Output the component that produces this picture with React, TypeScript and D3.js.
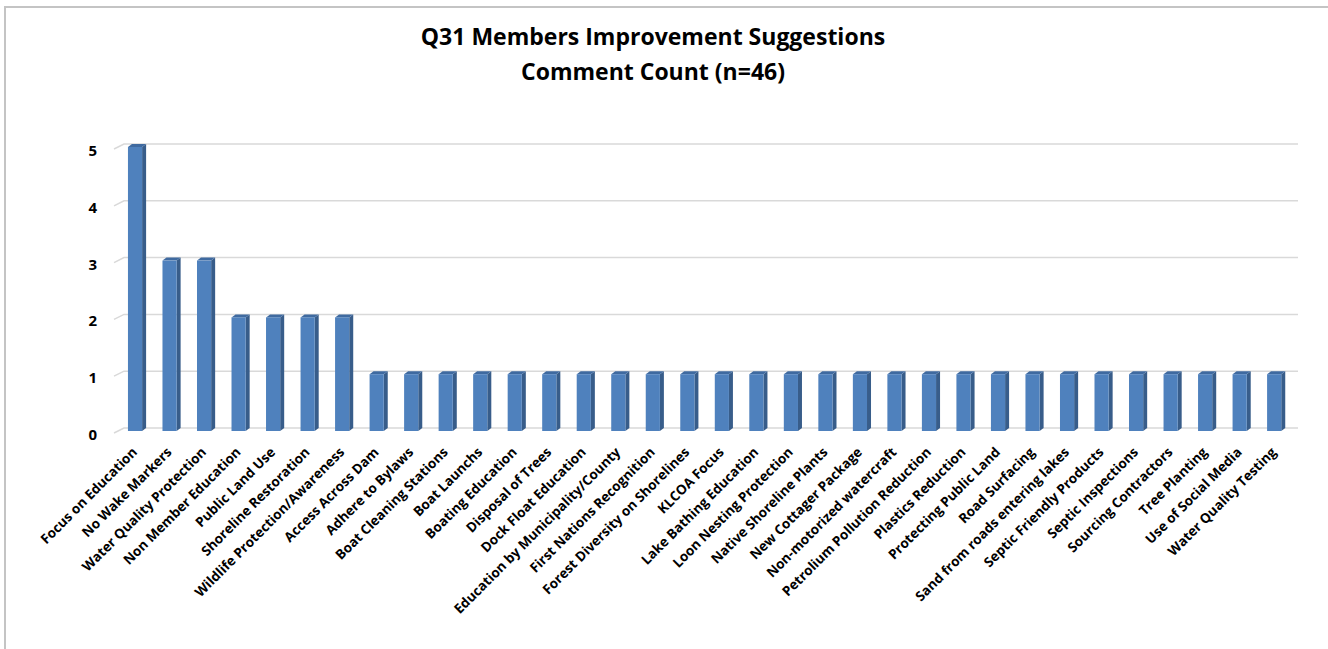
import React, { useRef, useEffect } from "react";
import * as d3 from "d3";

const categories: string[] = [
  "Focus on Education",
  "No Wake Markers",
  "Water Quality Protection",
  "Non Member Education",
  "Public Land Use",
  "Shoreline Restoration",
  "Wildlife Protection/Awareness",
  "Access Across Dam",
  "Adhere to Bylaws",
  "Boat Cleaning Stations",
  "Boat Launchs",
  "Boating Education",
  "Disposal of Trees",
  "Dock Float Education",
  "Education by Municipality/County",
  "First Nations Recognition",
  "Forest Diversity on Shorelines",
  "KLCOA Focus",
  "Lake Bathing Education",
  "Loon Nesting Protection",
  "Native Shoreline Plants",
  "New Cottager Package",
  "Non-motorized watercraft",
  "Petrolium Pollution Reduction",
  "Plastics Reduction",
  "Protecting Public Land",
  "Road Surfacing",
  "Sand from roads entering lakes",
  "Septic Friendly Products",
  "Septic Inspections",
  "Sourcing Contractors",
  "Tree Planting",
  "Use of Social Media",
  "Water Quality Testing",
];

const counts: number[] = [
  5, 3, 3, 2, 2, 2, 2, 1, 1, 1, 1, 1, 1, 1, 1, 1, 1, 1, 1, 1, 1, 1, 1, 1, 1,
  1, 1, 1, 1, 1, 1, 1, 1, 1,
];

const yTicks: number[] = [0, 1, 2, 3, 4, 5];

const titleLines: string[] = [
  "Q31 Members Improvement Suggestions",
  "Comment Count (n=46)",
];

const WIDTH = 1328;
const HEIGHT = 649;
const FONT = "'Open Sans', 'DejaVu Sans', sans-serif";

function drawChart(svgElement: SVGSVGElement) {
  const svg = d3.select(svgElement);
  svg.selectAll("*").remove();

  // frame (only top & left edges visible in the crop)
  svg
    .append("path")
    .attr("d", `M5,${HEIGHT} L5,7 L${WIDTH},7`)
    .attr("fill", "none")
    .attr("stroke", "#c4c4c4")
    .attr("stroke-width", 2);

  // title
  svg
    .append("g")
    .selectAll("text")
    .data(titleLines)
    .enter()
    .append("text")
    .attr("x", 653)
    .attr("y", (d, i) => 45 + i * 35)
    .attr("text-anchor", "middle")
    .style("font-family", FONT)
    .style("font-weight", "bold")
    .style("font-size", "23px")
    .style("fill", "#000")
    .text((d) => d);

  const x = d3
    .scaleBand<string>()
    .domain(categories)
    .range([117.6, 1291.6])
    .paddingInner(0.59)
    .paddingOuter(0.3);

  const y = d3.scaleLinear().domain([0, 5]).range([431, 147]);

  const wallLeft = 114;
  const wallRight = 1298;
  const wallDx = 10;
  const wallDy = -5;

  // gridlines with the 3D side-wall slant
  svg
    .append("g")
    .selectAll("path")
    .data(yTicks)
    .enter()
    .append("path")
    .attr(
      "d",
      (d) =>
        `M${wallLeft},${y(d) + 2} L${wallLeft + wallDx},${y(d) + 2 + wallDy} L${wallRight},${y(d) + 2 + wallDy}`
    )
    .attr("fill", "none")
    .attr("stroke", "#d9d9d9")
    .attr("stroke-width", 1.5);

  // y tick labels
  svg
    .append("g")
    .selectAll("text")
    .data(yTicks)
    .enter()
    .append("text")
    .attr("x", 97)
    .attr("y", (d) => y(d) + 9)
    .attr("text-anchor", "end")
    .style("font-family", FONT)
    .style("font-weight", "bold")
    .style("font-size", "15px")
    .style("fill", "#000")
    .text((d) => d);

  // 3D bars
  const bw = x.bandwidth();
  const dx = 4;
  const dy = -3;
  const bars = svg
    .append("g")
    .selectAll("g")
    .data(categories)
    .enter()
    .append("g");

  bars
    .append("path")
    .attr("d", (d, i) => {
      const x0 = (x(d) as number) + bw;
      const yt = y(counts[i]);
      const yb = y(0);
      return `M${x0},${yt} L${x0 + dx},${yt + dy} L${x0 + dx},${yb + dy} L${x0},${yb} Z`;
    })
    .attr("fill", "#385d8a");

  bars
    .append("path")
    .attr("d", (d, i) => {
      const x0 = x(d) as number;
      const yt = y(counts[i]);
      return `M${x0},${yt} L${x0 + dx},${yt + dy} L${x0 + bw + dx},${yt + dy} L${x0 + bw},${yt} Z`;
    })
    .attr("fill", "#3f6aa0");

  bars
    .append("rect")
    .attr("x", (d) => x(d) as number)
    .attr("y", (d, i) => y(counts[i]))
    .attr("width", bw)
    .attr("height", (d, i) => y(0) - y(counts[i]))
    .attr("fill", "#4f81bd");

  // category labels, rotated
  svg
    .append("g")
    .selectAll("text")
    .data(categories)
    .enter()
    .append("text")
    .attr("text-anchor", "end")
    .attr(
      "transform",
      (d) => `translate(${(x(d) as number) + bw / 2 + 3},${453}) rotate(-45)`
    )
    .style("font-family", FONT)
    .style("font-weight", "bold")
    .style("font-size", "13.5px")
    .style("fill", "#000")
    .text((d) => d);
}

const App: React.FunctionComponent = function () {
  const svgRef = useRef<SVGSVGElement>(null);

  useEffect(() => {
    if (svgRef.current == null) {
      return;
    }
    drawChart(svgRef.current);
  }, []);

  return (
    <div style={{ position: "absolute", left: 0, top: 0, background: "#fff" }}>
      <svg ref={svgRef} width={WIDTH} height={HEIGHT} style={{ display: "block" }}></svg>
    </div>
  );
};

export default App;
